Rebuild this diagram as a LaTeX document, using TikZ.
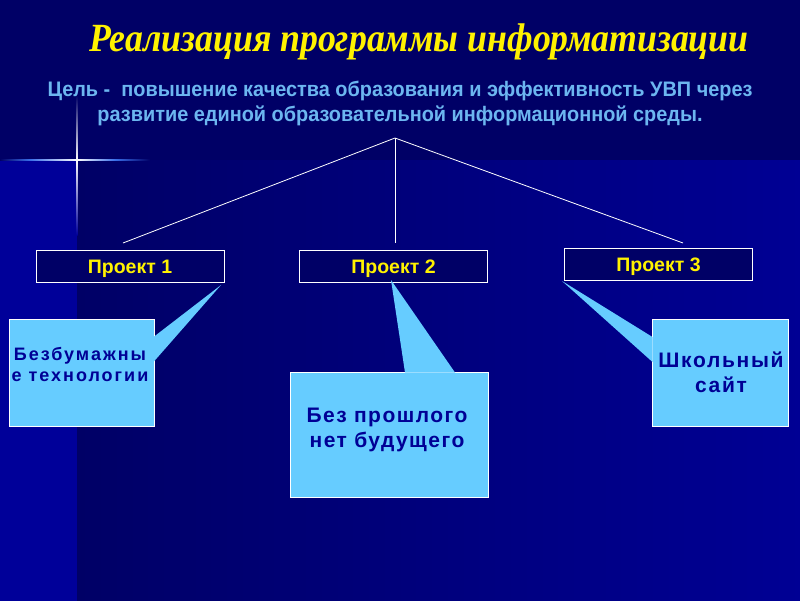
\documentclass[tikz,border=0pt]{standalone}
\usepackage{fontspec}
\setmainfont{Liberation Sans}
\newfontfamily\ttlfont{Liberation Serif}
\newfontfamily\spaceA{Liberation Sans}[LetterSpace=11]
\newfontfamily\spaceB{Liberation Sans}[LetterSpace=7]
\newfontfamily\spaceC{Liberation Sans}[LetterSpace=8]
\definecolor{bgtop}{HTML}{000066}
\definecolor{bgleft}{HTML}{000099}
\definecolor{bgright}{HTML}{000094}
\definecolor{subblue}{HTML}{6CB6F0}
\definecolor{callfill}{HTML}{66CCFF}
\definecolor{calltext}{HTML}{000095}
\definecolor{flare}{HTML}{3A6EE8}
\tikzset{
  projbox/.style={draw=white, line width=0.9pt, fill=bgtop, minimum width=188pt, minimum height=32pt, inner sep=0pt,
    text height=14pt, text depth=0pt, text=yellow, font=\bfseries\fontsize{19.5}{22}\selectfont},
  callbox/.style={draw=white, line width=0.9pt, fill=callfill, inner sep=0pt},
  calltxt/.style={text=calltext, align=center},
  pointer/.style={fill=callfill, draw=none},
  link/.style={draw=white, line width=0.8pt},
  subtxt/.style={text=subblue, font=\bfseries\fontsize{21}{24}\selectfont, xscale=0.947},
}
\begin{document}
\begin{tikzpicture}[x=1pt,y=-1pt]
\useasboundingbox (0,0) rectangle (800,600);
% background
\fill[bgtop] (-2,-2) rectangle (802,160);
\shade[left color=bgtop, right color=bgright] (77,160) rectangle (802,602);
\fill[bgleft] (-2,160) rectangle (77,602);
% flare
\shade[left color=bgtop, right color=flare] (0,159.3) rectangle (30,160.7);
\shade[left color=flare, right color=white] (30,159.3) rectangle (77,160.7);
\shade[left color=white, right color=flare] (77,159.3) rectangle (115,160.7);
\shade[left color=flare, right color=bgtop] (115,159.3) rectangle (150,160.7);
\shade[top color=bgtop, bottom color=white] (76.4,95) rectangle (77.6,160);
\shade[top color=white, bottom color=bgleft] (76.4,160) rectangle (77.6,235);
% title
\node[text=yellow, font=\ttlfont\bfseries\itshape\fontsize{40}{44}\selectfont, xscale=0.894] (title) at (419,42) {Реализация программы информатизации};
\node[subtxt] (sub1) at (400,91) {Цель -\ \ повышение качества образования и эффективность УВП через};
\node[subtxt] (sub2) at (400,116) {развитие единой образовательной информационной среды.};
% tree lines
\coordinate (apex) at (395,138);
\coordinate (e1) at (123,243);
\coordinate (e2) at (395,243);
\coordinate (e3) at (683,243);
\draw[link] (apex) -- (e1);
\draw[link] (apex) -- (e2);
\draw[link] (apex) -- (e3);
% project boxes
\node[projbox] (p1) at (130,266) {Проект 1};
\node[projbox] (p2) at (393.5,266) {Проект 2};
\node[projbox] (p3) at (658.5,264) {Проект 3};
% callouts
\node[callbox, minimum width=145pt, minimum height=107pt] (c1) at (81.5,372.5) {};
\node[callbox, minimum width=198pt, minimum height=125pt] (c2) at (389,434.5) {};
\node[callbox, minimum width=136pt, minimum height=107pt] (c3) at (720,372.5) {};
\coordinate (tip1) at (221,285);
\coordinate (tip2) at (391,280);
\coordinate (tip3) at (562,281);
\fill[pointer] (153.5,337) -- (tip1) -- (153.5,362) -- cycle;
\fill[pointer] (405,372.5) -- (tip2) -- (455,372.5) -- cycle;
\fill[pointer] (652.5,337) -- (tip3) -- (652.5,362) -- cycle;
\node[calltxt, font=\spaceA\bfseries\fontsize{18}{21}\selectfont] (t1) at (80,364.5) {Безбумажны\\е технологии};
\node[calltxt, font=\spaceB\bfseries\fontsize{21}{25}\selectfont] (t2) at (387,430) {Без прошлого\\нет будущего};
\node[calltxt, font=\spaceC\bfseries\fontsize{21}{25}\selectfont] (t3) at (721,372.5) {Школьный\\сайт};
\end{tikzpicture}
\end{document}
